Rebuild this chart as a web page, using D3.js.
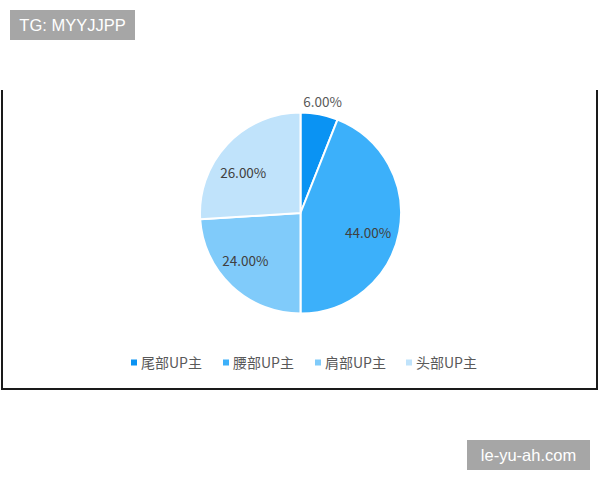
<!DOCTYPE html>
<html><head><meta charset="utf-8">
<script src="https://cdn.jsdelivr.net/npm/d3@7"></script>
<style>body{margin:0;background:#fff;}svg{display:block;}</style>
</head><body>
<script>
const categories = ["尾部UP主", "腰部UP主", "肩部UP主", "头部UP主"];
const values = [6, 44, 24, 26];
const labels = ["6.00%", "44.00%", "24.00%", "26.00%"];
const colors = ["#0a93f3", "#3cb0fa", "#80cbfa", "#c0e3fb"];

const W = 600, H = 480;
const svg = d3.select("body").append("svg").attr("width", W).attr("height", H);
const font = "'Noto Sans CJK SC','Noto Sans',sans-serif";

// chart frame (left, right, bottom)
svg.append("path").attr("d", "M2,90 V389 H597 V90").attr("fill", "none").attr("stroke", "#1a1a1a").attr("stroke-width", 2);

// top-left tag
svg.append("rect").attr("x", 10).attr("y", 10).attr("width", 125).attr("height", 30).attr("fill", "#a6a6a6");
svg.append("text").attr("x", 72.5).attr("y", 31).attr("text-anchor", "middle").attr("fill", "#fff")
  .attr("font-family", "'Liberation Sans',Arial,sans-serif").attr("font-size", 16.5).text("TG: MYYJJPP");

// watermark
svg.append("rect").attr("x", 467).attr("y", 440).attr("width", 123).attr("height", 30).attr("fill", "#a6a6a6");
svg.append("text").attr("x", 528.5).attr("y", 461).attr("text-anchor", "middle").attr("fill", "#fff")
  .attr("font-family", "'Liberation Sans',Arial,sans-serif").attr("font-size", 16.5).text("le-yu-ah.com");

const cx = 300.5, cy = 213, r = 100.5;
const pie = d3.pie().sort(null).value(d => d)(values);
const arc = d3.arc().innerRadius(0).outerRadius(r);
const g = svg.append("g").attr("transform", `translate(${cx},${cy})`);
g.selectAll("path").data(pie).join("path")
  .attr("d", arc).attr("fill", (d, i) => colors[i])
  .attr("stroke", "#fff").attr("stroke-width", 2).attr("stroke-linejoin", "round");

// label placement (best-fit style offsets)
const nudge = [[1, 0], [-1.5, 7], [-7, -3.5], [-6, 8]];
const labelArc = d3.arc().innerRadius(r * 0.7).outerRadius(r * 0.7);
const outerArc = d3.arc().innerRadius(r + 12).outerRadius(r + 12);
g.selectAll("text.lbl").data(pie).join("text").attr("class", "lbl")
  .attr("transform", (d, i) => {
    const c = (i === 0 ? outerArc : labelArc).centroid(d);
    return `translate(${c[0] + nudge[i][0]},${c[1] + nudge[i][1]})`;
  })
  .attr("text-anchor", "middle").attr("dy", "0.35em")
  .attr("font-family", font).attr("font-size", 13.5)
  .attr("fill", (d, i) => i === 0 ? "#595959" : "#404040")
  .text((d, i) => labels[i]);

// legend
const legX = [131, 223, 315, 406];
const leg = svg.append("g");
categories.forEach((c, i) => {
  leg.append("rect").attr("x", legX[i]).attr("y", 359.5).attr("width", 6).attr("height", 6).attr("fill", colors[i]);
  leg.append("text").attr("x", legX[i] + 10).attr("y", 363).attr("dy", "0.35em")
    .attr("font-family", font).attr("font-size", 14).attr("fill", "#595959").text(c);
});
</script>
</body></html>
